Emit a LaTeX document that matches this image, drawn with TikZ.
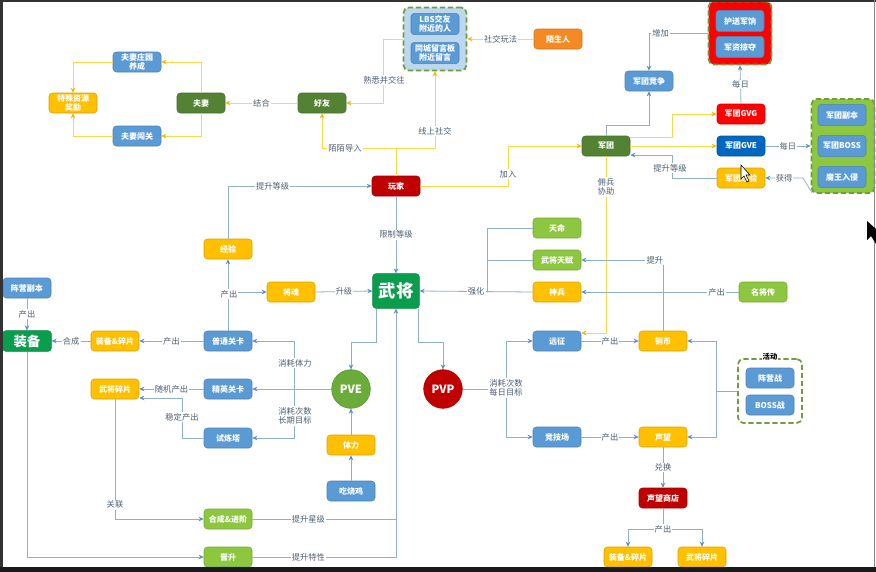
\documentclass[tikz,border=0pt]{standalone}
\usepackage{fontspec}
\setmainfont{Noto Sans CJK SC}
\usetikzlibrary{arrows.meta}
\definecolor{nblue}{HTML}{5B9BD5}
\definecolor{nyellow}{HTML}{FFC000}
\definecolor{ndgreen}{HTML}{548235}
\definecolor{nlgreen}{HTML}{8DC63F}
\definecolor{nbig}{HTML}{0A9D4E}
\definecolor{nred}{HTML}{C00000}
\definecolor{nbred}{HTML}{FF0000}
\definecolor{norange}{HTML}{F58A22}
\definecolor{ndblue}{HTML}{0066BF}
\definecolor{pveg}{HTML}{6AAB3A}
\definecolor{gborder}{HTML}{6E9E3E}
\definecolor{lbsfill}{HTML}{BDD7EE}
\definecolor{gfill}{HTML}{8DC63F}
\definecolor{lineb}{HTML}{8FB0C9}
\definecolor{tipb}{HTML}{5B8FC7}
\definecolor{liney}{HTML}{FFD54A}
\definecolor{tipy}{HTML}{F2B600}
\definecolor{labc}{HTML}{4D5F73}
\tikzset{
  nd/.style={rounded corners=2.5pt, minimum width=36pt, minimum height=15pt, inner sep=1pt,
    align=center, text=white, font=\fontsize{6}{6.6}\selectfont\bfseries,
    draw=#1!85!black, fill=#1, line width=0.4pt},
  bn/.style={nd=nblue},
  yn/.style={nd=nyellow},
  dg/.style={nd=ndgreen},
  lg/.style={nd=nlgreen},
  rn/.style={nd=nred},
  brn/.style={nd=nbred},
  on/.style={nd=norange},
  dbn/.style={nd=ndblue},
  gin/.style={minimum height=16pt},
  big/.style={nd=nbig, minimum width=35pt, minimum height=26pt, font=\fontsize{13}{14}\selectfont\bfseries},
  bigs/.style={nd=nbig, minimum width=36.5pt, minimum height=15.5pt, font=\fontsize{10}{11}\selectfont\bfseries},
  circ/.style={circle, minimum size=29pt, inner sep=0pt, text=white, draw=#1!85!black, fill=#1,
    font=\fontsize{8.5}{9}\selectfont\bfseries},
  grp/.style={rounded corners=4pt, dash pattern=on 4pt off 2pt, line width=1.3pt, draw=gborder,
    minimum width=47.25pt, minimum height=47.25pt, inner sep=0pt},
  lbl/.style={fill=white, inner sep=0.8pt, text=labc, font=\fontsize{6.2}{7}\selectfont, align=center},
  ba/.style={draw=lineb, line width=0.6pt, -{Stealth[length=3.8pt,width=3.4pt,color=tipb]}},
  bl/.style={draw=lineb, line width=0.6pt},
  ya/.style={draw=liney, line width=0.6pt, -{Stealth[length=3.8pt,width=3.4pt,color=tipy]}},
}
\begin{document}
\begin{tikzpicture}[x=0.75pt,y=-0.75pt]
\useasboundingbox (0,0) rectangle (876,572);
\fill[white] (0,0) rectangle (876,572);

% ---------- nodes: top left ----------
\node[bn] (zy) at (137,62) {夫妻庄园\\养成};
\node[yn] (ts) at (73,103) {特殊资源\\奖励};
\node[bn] (cg) at (137,136) {夫妻闯关};
\node[dg] (fq) at (201,103) {夫妻};
\node[dg] (hy) at (322,103) {好友};
\node[grp, fill=lbsfill] (lbs) at (435,39) {};
\node[bn, gin] (lbs1) at (435,24) {LBS交友\\附近的人};
\node[bn, gin] (lbs2) at (435,53) {同城留言板\\附近留言};
\node[on] (msr) at (558,39) {陌生人};
\node[rn] (wj) at (396,186) {玩家};

% ---------- nodes: top right ----------
\node[dg] (jt) at (606,146) {军团};
\node[bn] (jz) at (649,81) {军团竞争};
\node[grp, fill=nbred] (rbox) at (740,33) {};
\node[bn, gin] (hs) at (740,21) {护送军饷};
\node[bn, gin] (ld) at (740,47) {军资掠夺};
\node[brn] (gvg) at (741,114) {军团GVG};
\node[dbn] (gve) at (741,146) {军团GVE};
\node[yn] (jy2) at (741,178) {军团经验};
\node[grp, fill=gfill, minimum height=70.5pt] (gbox) at (843,146) {};
\node[bn, gin] (fb) at (842,115) {军团副本};
\node[bn, gin] (boss) at (842,146) {军团BOSS};
\node[bn, gin] (mw) at (842,177) {魔王入侵};

% ---------- nodes: middle ----------
\node[yn] (jy) at (228,249) {经验};
\node[yn] (jh) at (291,292) {将魂};
\node[big] (wjg) at (396,291) {武将};
\node[lg] (tm) at (557,228) {天命};
\node[lg] (tf) at (557,260) {武将天赋};
\node[yn] (sb) at (557,292) {神兵};
\node[lg] (mjz) at (763,292) {名将传};
\node[bn] (yz) at (557,341) {远征};
\node[yn] (tb) at (663,341) {铜币};
\node[grp, fill=white, minimum width=48pt, minimum height=48pt] (hd) at (770,391) {};
\node[fill=white, inner sep=0.5pt, font=\fontsize{5.5}{6}\selectfont\bfseries] (hdl) at (770,357) {活动};
\node[bn] (zyz) at (770,378) {阵营战};
\node[bn] (bz) at (770,405) {BOSS战};
\node[bn] (jjc) at (557,437) {竞技场};
\node[yn] (sw) at (663,437) {声望};
\node[rn] (swsd) at (663,498) {声望商店};
\node[yn] (zbs2) at (628,557) {装备\&碎片};
\node[yn] (wjs2) at (702,557) {武将碎片};
\node[circ=pveg] (pve) at (351,389) {PVE};
\node[circ=nred] (pvp) at (443,389) {PVP};
\node[yn] (tl) at (351,445) {体力};
\node[bn] (csj) at (351,491) {吃烧鸡};

% ---------- nodes: left ----------
\node[bn] (zyfb) at (27,288) {阵营副本};
\node[bigs] (zb) at (27,341) {装备};
\node[yn] (zbs) at (115,341) {装备\&碎片};
\node[bn] (ptgk) at (228,341) {普通关卡};
\node[yn] (wjs) at (115,389) {武将碎片};
\node[bn] (jygk) at (228,389) {精英关卡};
\node[bn] (sltl) at (228,438) {试炼塔};
\node[lg] (hc) at (228,519) {合成\&进阶};
\node[lg] (js) at (228,557) {晋升};

% ---------- yellow connectors ----------
\draw[ya] (fq.north) |- (zy.east);
\draw[ya] (fq.south) |- (cg.east);
\draw[ya] (zy.west) -| (ts.north);
\draw[ya] (cg.west) -| (ts.south);
\draw[ya] (hy.west) -- node[lbl]{结合} (fq.east);
\draw[ya] (lbs.west) -- ++(-19,0) |- (hy.east);
\node[lbl] at (384,80) {熟悉并交往};
\draw[ya] (msr.west) -- node[lbl]{社交玩法} (lbs.east);
\coordinate (wjt) at (397,148);
\draw[ya] (wj.north) -- (wj.north |- wjt) -| (hy.south);
\draw[ya] (wj.north) -- (wj.north |- wjt) -| (lbs.south);
\node[lbl] at (345,148) {陌陌导入};
\node[lbl] at (435,131) {线上社交};
\draw[ya] (wj.east) -- (508,186) |- (jt.west);
\node[lbl] at (508,174) {加入};
\draw[ya] ([yshift=6.75pt]jt.east) -- (672,137) |- (gvg.west);
\draw[ya] (jt.east) -- (gve.west);
\draw[ya] (jt.south) |- ([yshift=6pt]yz.east);
\node[lbl] at (606,187) {佣兵\\协助};

% ---------- blue connectors: top right ----------
\draw[ba] (jt.north) -- ++(0,-10) -| (jz.south);
\draw[ba] (rbox.west) -| node[lbl, pos=0.4]{增加} (jz.north);
\draw[ba] (gvg.north) -- node[lbl]{每日} (rbox.south);
\draw[ba] (gve.east) -- node[lbl]{每日} (gbox.west);
\draw[ba] ([xshift=1pt,yshift=1pt]gbox.south west) -- (803,178) -- node[lbl]{获得} (jy2.east);
\draw[ba] (jy2.west) -- (672,178) |- ([yshift=-6.75pt]jt.east);
\node[lbl] at (670,168) {提升等级};

% ---------- blue connectors: middle ----------
\draw[ba] (jy.north) |- node[lbl, pos=0.655]{提升等级} (wj.west);
\draw[ba] (wj.south) -- node[lbl]{限制等级} (wjg.north);
\draw[ba] (jh.east) -- node[lbl]{升级} (wjg.west);
\draw[bl] (tm.west) -| (487,292);
\draw[bl] (tf.west) -- (487,260);
\draw[ba] (sb.west) -- node[lbl, pos=0.5]{强化} (wjg.east);
\draw[ba] (mjz.west) -- node[lbl, pos=0.14]{产出} (sb.east);
\draw[ba] (tb.north) |- node[lbl, pos=0.55]{提升} (tf.east);
\draw[ba] (yz.east) -- node[lbl]{产出} (tb.west);
\draw[ba] (hd.west) -- ++(-21,0) |- (tb.east);
\draw[ba] (hd.west) -- ++(-21,0) |- (sw.east);
\draw[ba] (jjc.east) -- node[lbl]{产出} (sw.west);
\draw[ba] (sw.south) -- node[lbl]{兑换} (swsd.north);
\draw[ba] (swsd.south) -- ++(0,21) -| (zbs2.north);
\draw[ba] (swsd.south) -- ++(0,21) -| (wjs2.north);
\node[lbl] at (663,529) {产出};
\draw[ba] (pvp.east) -- (506,389) |- (yz.west);
\draw[ba] (pvp.east) -- (506,389) |- (jjc.west);
\node[lbl] at (506,388) {消耗次数\\每日目标};
\draw[ba] ([xshift=3pt]wjg.south west) -- ++(0,34) -| (pve.north);
\draw[ba] ([xshift=-1pt]wjg.south east) -- ++(0,34) -| (pvp.north);
\draw[ba] (hc.east) -- node[lbl, pos=0.39]{提升星级} (hc.east -| wjg.south) -- (wjg.south);
\draw[bl] (js.east) -- node[lbl, pos=0.39]{提升特性} (js.east -| wjg.south) -- (hc.east -| wjg.south);
\coordinate (pj) at (294,389);
\draw[ba] (pve.west) -- (jygk.east);
\draw[ba] (pj) |- (ptgk.east);
\draw[ba] (pj) |- (sltl.east);
\node[lbl] at (295,363) {消耗体力};
\node[lbl] at (295,416) {消耗次数\\长期目标};
\draw[ba] (tl.north) -- (pve.south);
\draw[ba] (csj.north) -- (tl.south);

% ---------- blue connectors: left ----------
\draw[ba] (ptgk.north) -- (jy.south);
\draw[ba] (ptgk.north |- jh.west) -- (jh.west);
\node[lbl] at (229,294) {产出};
\draw[ba] (ptgk.west) -- node[lbl]{产出} (zbs.east);
\draw[ba] (zbs.west) -- node[lbl]{合成} (zb.east);
\draw[ba] (zyfb.south) -- node[lbl]{产出} (zb.north);
\draw[ba] (jygk.west) -- node[lbl]{随机产出} (wjs.east);
\draw[ba] (sltl.west) -- ++(-21,0) |- ([yshift=-6.75pt]wjs.east);
\node[lbl] at (182,417) {稳定产出};
\draw[ba] (wjs.south) |- node[lbl, pos=0.44]{关联} (hc.west);
\draw[ba] (zb.south) |- (js.west);

% ---------- screenshot frame and cursors ----------
\fill[black!80] (0,0) rectangle (876,2);
\fill[black!80] (0,0) rectangle (3,572);
\fill[black!90] (0,567) rectangle (876,572);
\draw[black!45, line width=0.6pt] (874.5,0) -- (874.5,567);
\fill[black] (867,221) -- (867,240) -- (871,236) -- (876,244) -- (876,229) -- cycle;
\draw[black, fill=white, line width=0.4pt] (741,165) -- (741,179) -- (744,176) -- (747,182) -- (749,181) -- (746,175) -- (750,175) -- cycle;
\end{tikzpicture}
\end{document}
